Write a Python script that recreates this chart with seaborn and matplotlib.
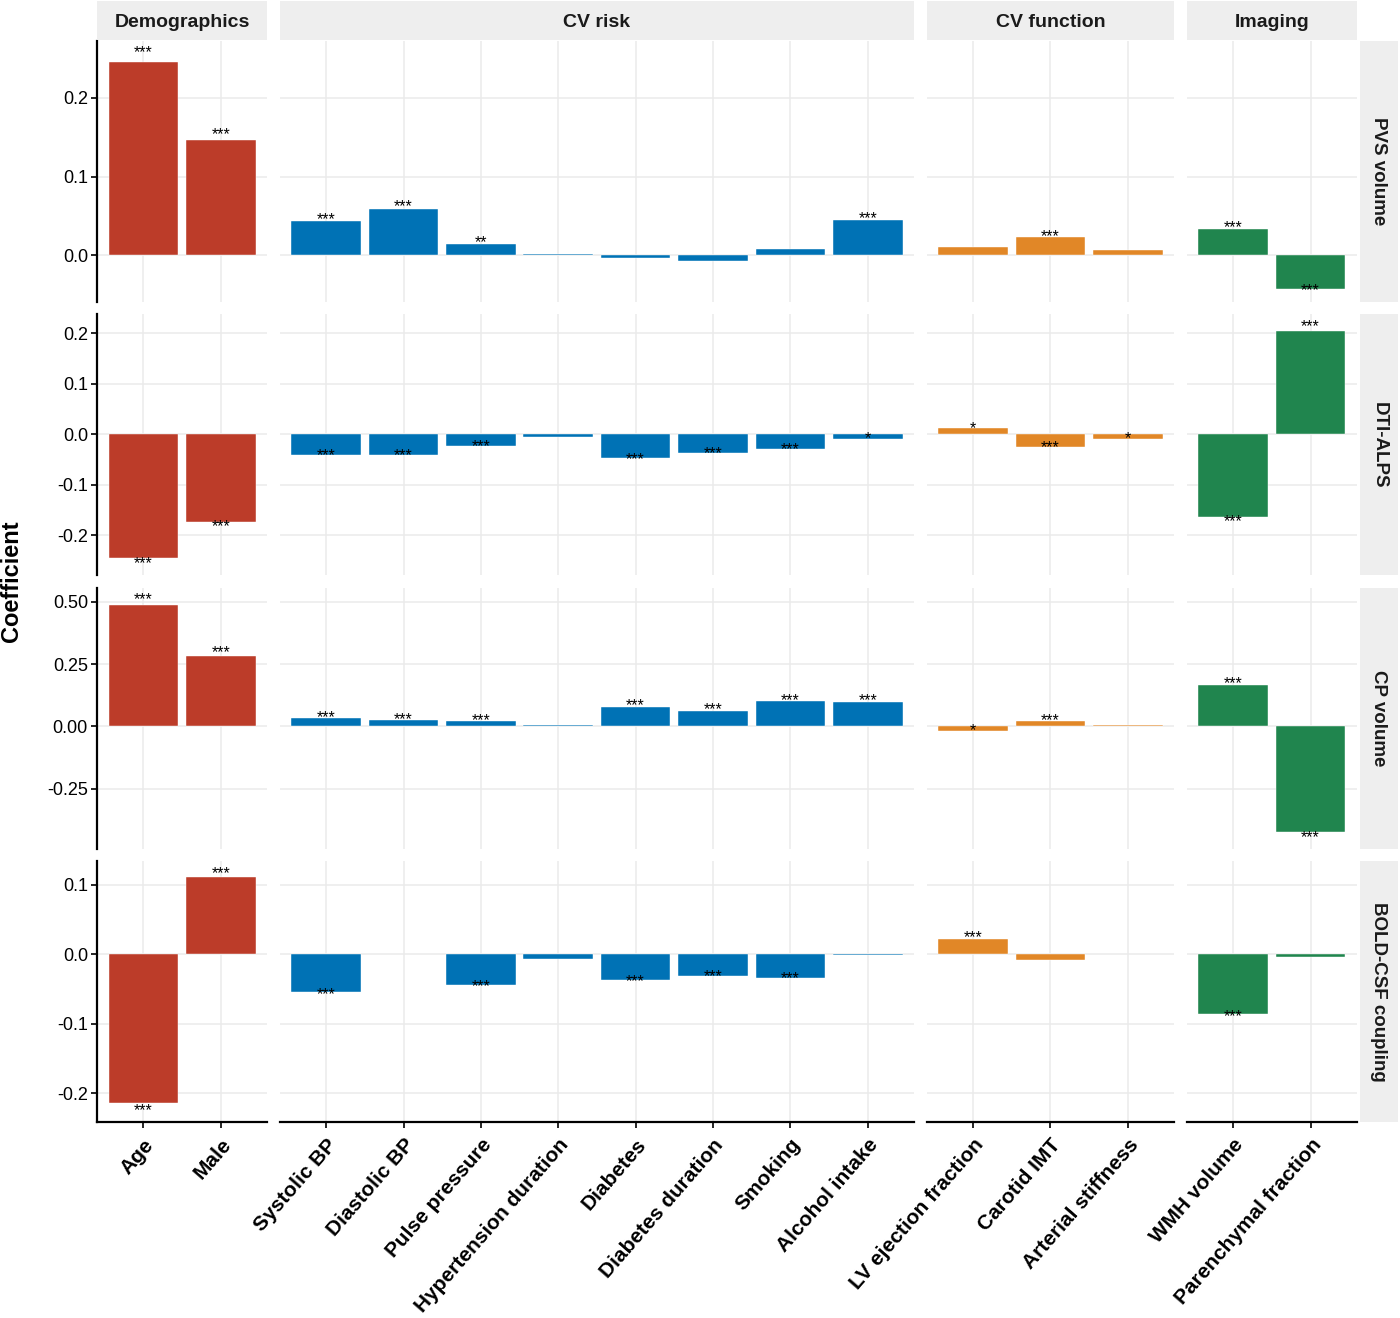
import numpy as np
import pandas as pd
import matplotlib
matplotlib.use("Agg")
import matplotlib.pyplot as plt
from matplotlib.patches import Rectangle
import seaborn as sns

# ---------------- data ----------------
groups = ["Demographics", "CV risk", "CV function", "Imaging"]
demographics = ["Age", "Male"]
cv_risk = ["Systolic BP", "Diastolic BP", "Pulse pressure", "Hypertension duration",
           "Diabetes", "Diabetes duration", "Smoking", "Alcohol intake"]
cv_function = ["LV ejection fraction", "Carotid IMT", "Arterial stiffness"]
imaging = ["WMH volume", "Parenchymal fraction"]
outcomes = ["PVS volume", "DTI-ALPS", "CP volume", "BOLD-CSF coupling"]

# coefficients, order: demographics + cv_risk + cv_function + imaging (NaN = not shown)
pvs_coef = [0.245, 0.146,
            0.0435, 0.059, 0.015, 0.0015, -0.003, -0.007, 0.0084, 0.0448,
            0.0105, 0.0228, 0.0071,
            0.0338, -0.042]
pvs_sig = ["***", "***",
           "***", "***", "**", "", "", "", "", "***",
           "", "***", "",
           "***", "***"]

alps_coef = [-0.245, -0.174,
             -0.041, -0.041, -0.024, -0.0046, -0.048, -0.037, -0.029, -0.0093,
             0.0113, -0.025, -0.0093,
             -0.165, 0.204]
alps_sig = ["***", "***",
            "***", "***", "***", "", "***", "***", "***", "*",
            "*", "***", "*",
            "***", "***"]

cp_coef = [0.485, 0.281,
           0.032, 0.027, 0.021, 0.004, 0.077, 0.063, 0.0995, 0.099,
           -0.017, 0.020, 0.005,
           0.164, -0.426]
cp_sig = ["***", "***",
          "***", "***", "***", "", "***", "***", "***", "***",
          "*", "***", "",
          "***", "***"]

bold_coef = [-0.2145, 0.111,
             -0.055, np.nan, -0.045, -0.007, -0.037, -0.031, -0.034, -0.0015,
             0.0226, -0.009, np.nan,
             -0.086, -0.004]
bold_sig = ["***", "***",
            "***", "", "***", "", "***", "***", "***", "",
            "***", "", "",
            "***", ""]

group_colors = ["#BC3C29", "#0072B5", "#E18727", "#20854E"]

row_yticks = [[0.0, 0.1, 0.2],
              [-0.2, -0.1, 0.0, 0.1, 0.2],
              [-0.25, 0.0, 0.25, 0.50],
              [-0.2, -0.1, 0.0, 0.1]]
row_yticklabels = [["0.0", "0.1", "0.2"],
                   ["-0.2", "-0.1", "0.0", "0.1", "0.2"],
                   ["-0.25", "0.00", "0.25", "0.50"],
                   ["-0.2", "-0.1", "0.0", "0.1"]]
row_ylims = [(-0.059, 0.272), (-0.280, 0.2375), (-0.492, 0.556), (-0.242, 0.134)]

# ---------------- build long table ----------------
group_vars = [demographics, cv_risk, cv_function, imaging]
all_vars = sum(group_vars, [])
all_groups = sum([[g] * len(v) for g, v in zip(groups, group_vars)], [])
coefs = [pvs_coef, alps_coef, cp_coef, bold_coef]
sigs = [pvs_sig, alps_sig, cp_sig, bold_sig]
rows = []
for o, c, s in zip(outcomes, coefs, sigs):
    for v, g, cc, ss in zip(all_vars, all_groups, c, s):
        rows.append(dict(outcome=o, group=g, variable=v, coef=cc, sig=ss))
df = pd.DataFrame(rows)

# ---------------- figure ----------------
sns.set_theme(style="white")
plt.rcParams["font.family"] = ["Liberation Sans", "DejaVu Sans"]

W, H = 1400, 1318
fig = plt.figure(figsize=(W / 100, H / 100), dpi=100)

def fax(x0, y0, x1, y1):
    return fig.add_axes([x0 / W, 1 - y1 / H, (x1 - x0) / W, (y1 - y0) / H])

left, right_edge = 97, 1357
col_gap = 12.5
ratios = [len(v) + 0.2 for v in group_vars]
unit = (right_edge - left - col_gap * 3) / sum(ratios)
col_x = []
x = left
for r in ratios:
    col_x.append((x, x + r * unit))
    x += r * unit + col_gap

row_top0, row_h, row_gap = 41, 261, 12.4
row_y = [(row_top0 + i * (row_h + row_gap), row_top0 + i * (row_h + row_gap) + row_h) for i in range(4)]

grid_c = "#EBEBEB"
strip_c = "#EEEEEE"

for i, outc in enumerate(outcomes):
    for j, grp in enumerate(groups):
        cats = group_vars[j]
        ax = fax(col_x[j][0], row_y[i][0], col_x[j][1], row_y[i][1])
        sub = df[(df.outcome == outc) & (df.group == grp)].dropna(subset=["coef"])
        sns.barplot(data=sub, x="variable", y="coef", order=cats, color=group_colors[j],
                    saturation=1, width=0.9, errorbar=None, edgecolor="white",
                    linewidth=0.3, ax=ax)
        ax.set_xlim(-0.6, len(cats) - 0.4)
        ax.set_ylim(*row_ylims[i])
        ax.set_yticks(row_yticks[i])
        ax.set_xticks(range(len(cats)))
        ax.set_axisbelow(True)
        ax.grid(True, color=grid_c, linewidth=1.1)
        ax.set_xlabel("")
        ax.set_ylabel("")
        for sp in ax.spines.values():
            sp.set_visible(False)
        # stars
        for _, r in sub.iterrows():
            if r.sig:
                xp = cats.index(r.variable)
                ax.annotate(r.sig, (xp, r.coef * 1.05), ha="center", va="center",
                            fontsize=11.5, color="black", annotation_clip=False)
        # y axis
        if j == 0:
            ax.spines["left"].set_visible(True)
            ax.spines["left"].set_color("black")
            ax.spines["left"].set_linewidth(1.6)
            ax.set_yticklabels(row_yticklabels[i], fontsize=13, color="black")
            ax.tick_params(axis="y", length=4.5, width=1.2, color="black", pad=2, left=True)
        else:
            ax.set_yticklabels([])
            ax.tick_params(axis="y", length=0)
        # x axis
        if i == 3:
            ax.spines["bottom"].set_visible(True)
            ax.spines["bottom"].set_color("black")
            ax.spines["bottom"].set_linewidth(1.6)
            ax.set_xticklabels(cats, rotation=49, ha="right", va="top",
                               rotation_mode="anchor", fontsize=15,
                               fontweight="bold", color="black")
            ax.tick_params(axis="x", length=4.5, width=1.2, color="black", pad=5, bottom=True)
        else:
            ax.set_xticklabels([])
            ax.tick_params(axis="x", length=0)

# top strips
for j, grp in enumerate(groups):
    sax = fax(col_x[j][0], 1, col_x[j][1], 40)
    sax.set_axis_off()
    sax.add_patch(Rectangle((0, 0), 1, 1, transform=sax.transAxes, color=strip_c, zorder=0))
    sax.text(0.5, 0.45, grp, ha="center", va="center", fontsize=14, fontweight="bold",
             color="#1A1A1A", transform=sax.transAxes)

# right strips
for i, outc in enumerate(outcomes):
    sax = fax(1359.5, row_y[i][0], 1398, row_y[i][1])
    sax.set_axis_off()
    sax.add_patch(Rectangle((0, 0), 1, 1, transform=sax.transAxes, color=strip_c, zorder=0))
    sax.text(0.5, 0.5, outc, ha="center", va="center", rotation=270, fontsize=13.5,
             fontweight="bold", color="#1A1A1A", transform=sax.transAxes)

fig.text(12 / W, 1 - 581 / H, "Coefficient", rotation=90, ha="center", va="center",
         fontsize=17, fontweight="bold", color="black")

fig.savefig("out.png", dpi=100)
